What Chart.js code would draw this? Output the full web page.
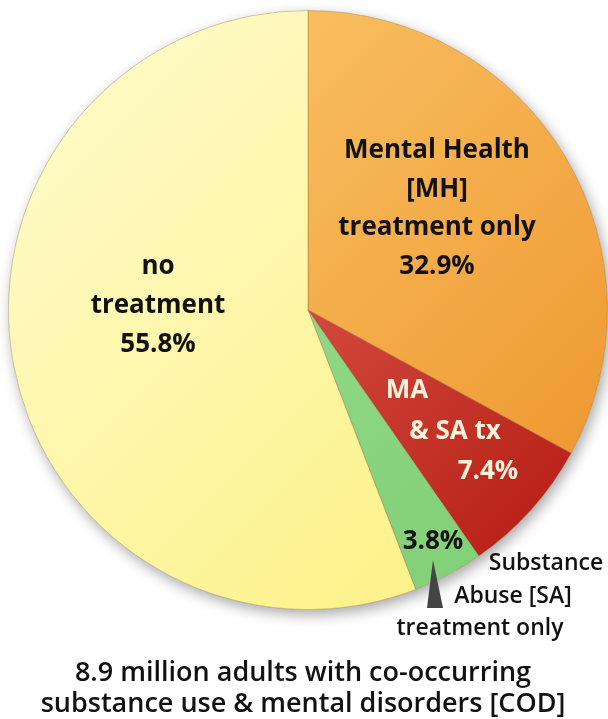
<!DOCTYPE html>
<html>
<head>
<meta charset="utf-8">
<script src="https://cdn.jsdelivr.net/npm/chart.js@4"></script>
<style>
  html, body { margin: 0; padding: 0; background: #fff; }
  #wrap { width: 608px; height: 719px; }
</style>
</head>
<body>
<div id="wrap"><canvas id="pie" width="608" height="719"></canvas></div>
<script>
// slices clockwise from 12 o'clock
const categories = ['Mental Health [MH] treatment only', 'MA & SA tx', 'Substance Abuse [SA] treatment only', 'no treatment'];
const shares = [32.9, 7.4, 3.8, 55.8];
const titleLines = ['8.9 million adults with co-occurring', 'substance use & mental disorders [COD]'];

// gradient stops per slice: [start, end]
const sliceColors = [
    ['#fdcd72', '#ec9128'],
    ['#f47c72', '#b0140a'],
    ['#a3e298', '#7ccd72'],
    ['#fffcd0', '#fcf07a']
];

const fillFor = (context) => {
    const chart = context.chart;
    const area = chart.chartArea;
    if (!area) return sliceColors[context.dataIndex][0];
    const c = sliceColors[context.dataIndex];
    const g = chart.ctx.createLinearGradient(area.left, area.top, area.right, area.bottom);
    g.addColorStop(0, c[0]);
    g.addColorStop(1, c[1]);
    return g;
};

// soft shadow under the pie
const shadowPlugin = {
    id: 'pieShadow',
    beforeDatasetsDraw(chart) {
        const arc = chart.getDatasetMeta(0).data[0];
        if (!arc) return;
        const ctx = chart.ctx;
        ctx.save();
        ctx.shadowColor = 'rgba(0,0,0,0.35)';
        ctx.shadowBlur = 14;
        ctx.shadowOffsetX = 3;
        ctx.shadowOffsetY = 5;
        ctx.fillStyle = '#fff';
        ctx.beginPath();
        ctx.arc(arc.x, arc.y, arc.outerRadius, 0, Math.PI * 2);
        ctx.fill();
        ctx.restore();
    }
};

// slice labels, pointer and caption
const textPlugin = {
    id: 'pieText',
    afterDraw(chart) {
        const ctx = chart.ctx;
        ctx.save();
        ctx.textAlign = 'center';
        ctx.textBaseline = 'middle';

        ctx.font = 'bold 26px "Open Sans", sans-serif';
        ctx.fillStyle = '#111';
        ['Mental Health', '[MH]', 'treatment only', shares[0].toFixed(1) + '%'].forEach((t, i) => {
            ctx.fillText(t, 437, 151 + i * 38.5);
        });
        ['no', 'treatment', shares[3].toFixed(1) + '%'].forEach((t, i) => {
            ctx.fillText(t, 158, 267 + i * 39);
        });
        ctx.fillText(shares[2].toFixed(1) + '%', 433, 542);

        ctx.fillStyle = '#fff4dc';
        ctx.fillText('MA', 407, 391);
        ctx.fillText('& SA tx', 455, 432);
        ctx.fillText(shares[1].toFixed(1) + '%', 488, 472);

        // pointer to the SA slice
        ctx.fillStyle = '#444';
        ctx.beginPath();
        ctx.moveTo(433, 560);
        ctx.lineTo(443, 608);
        ctx.lineTo(427, 608);
        ctx.closePath();
        ctx.fill();

        ctx.fillStyle = '#111';
        ctx.font = '600 23px "Open Sans", sans-serif';
        ctx.fillText('Substance', 546, 563);
        ctx.fillText('Abuse [SA]', 513, 596);
        ctx.fillText('treatment only', 480, 628);

        ctx.font = '600 27px "Open Sans", sans-serif';
        titleLines.forEach((t, i) => ctx.fillText(t, 303, 673 + i * 31));
        ctx.restore();
    }
};

new Chart(document.getElementById('pie'), {
    type: 'pie',
    data: {
        labels: categories,
        datasets: [{
            data: shares,
            backgroundColor: fillFor,
            borderColor: 'rgba(140,95,40,0.35)',
            borderWidth: 1
        }]
    },
    options: {
        responsive: false,
        animation: false,
        devicePixelRatio: 1,
        layout: { padding: { left: 8, right: 0, top: 10, bottom: 109 } },
        plugins: {
            legend: { display: false },
            tooltip: { enabled: false }
        }
    },
    plugins: [shadowPlugin, textPlugin]
});
</script>
</body>
</html>
